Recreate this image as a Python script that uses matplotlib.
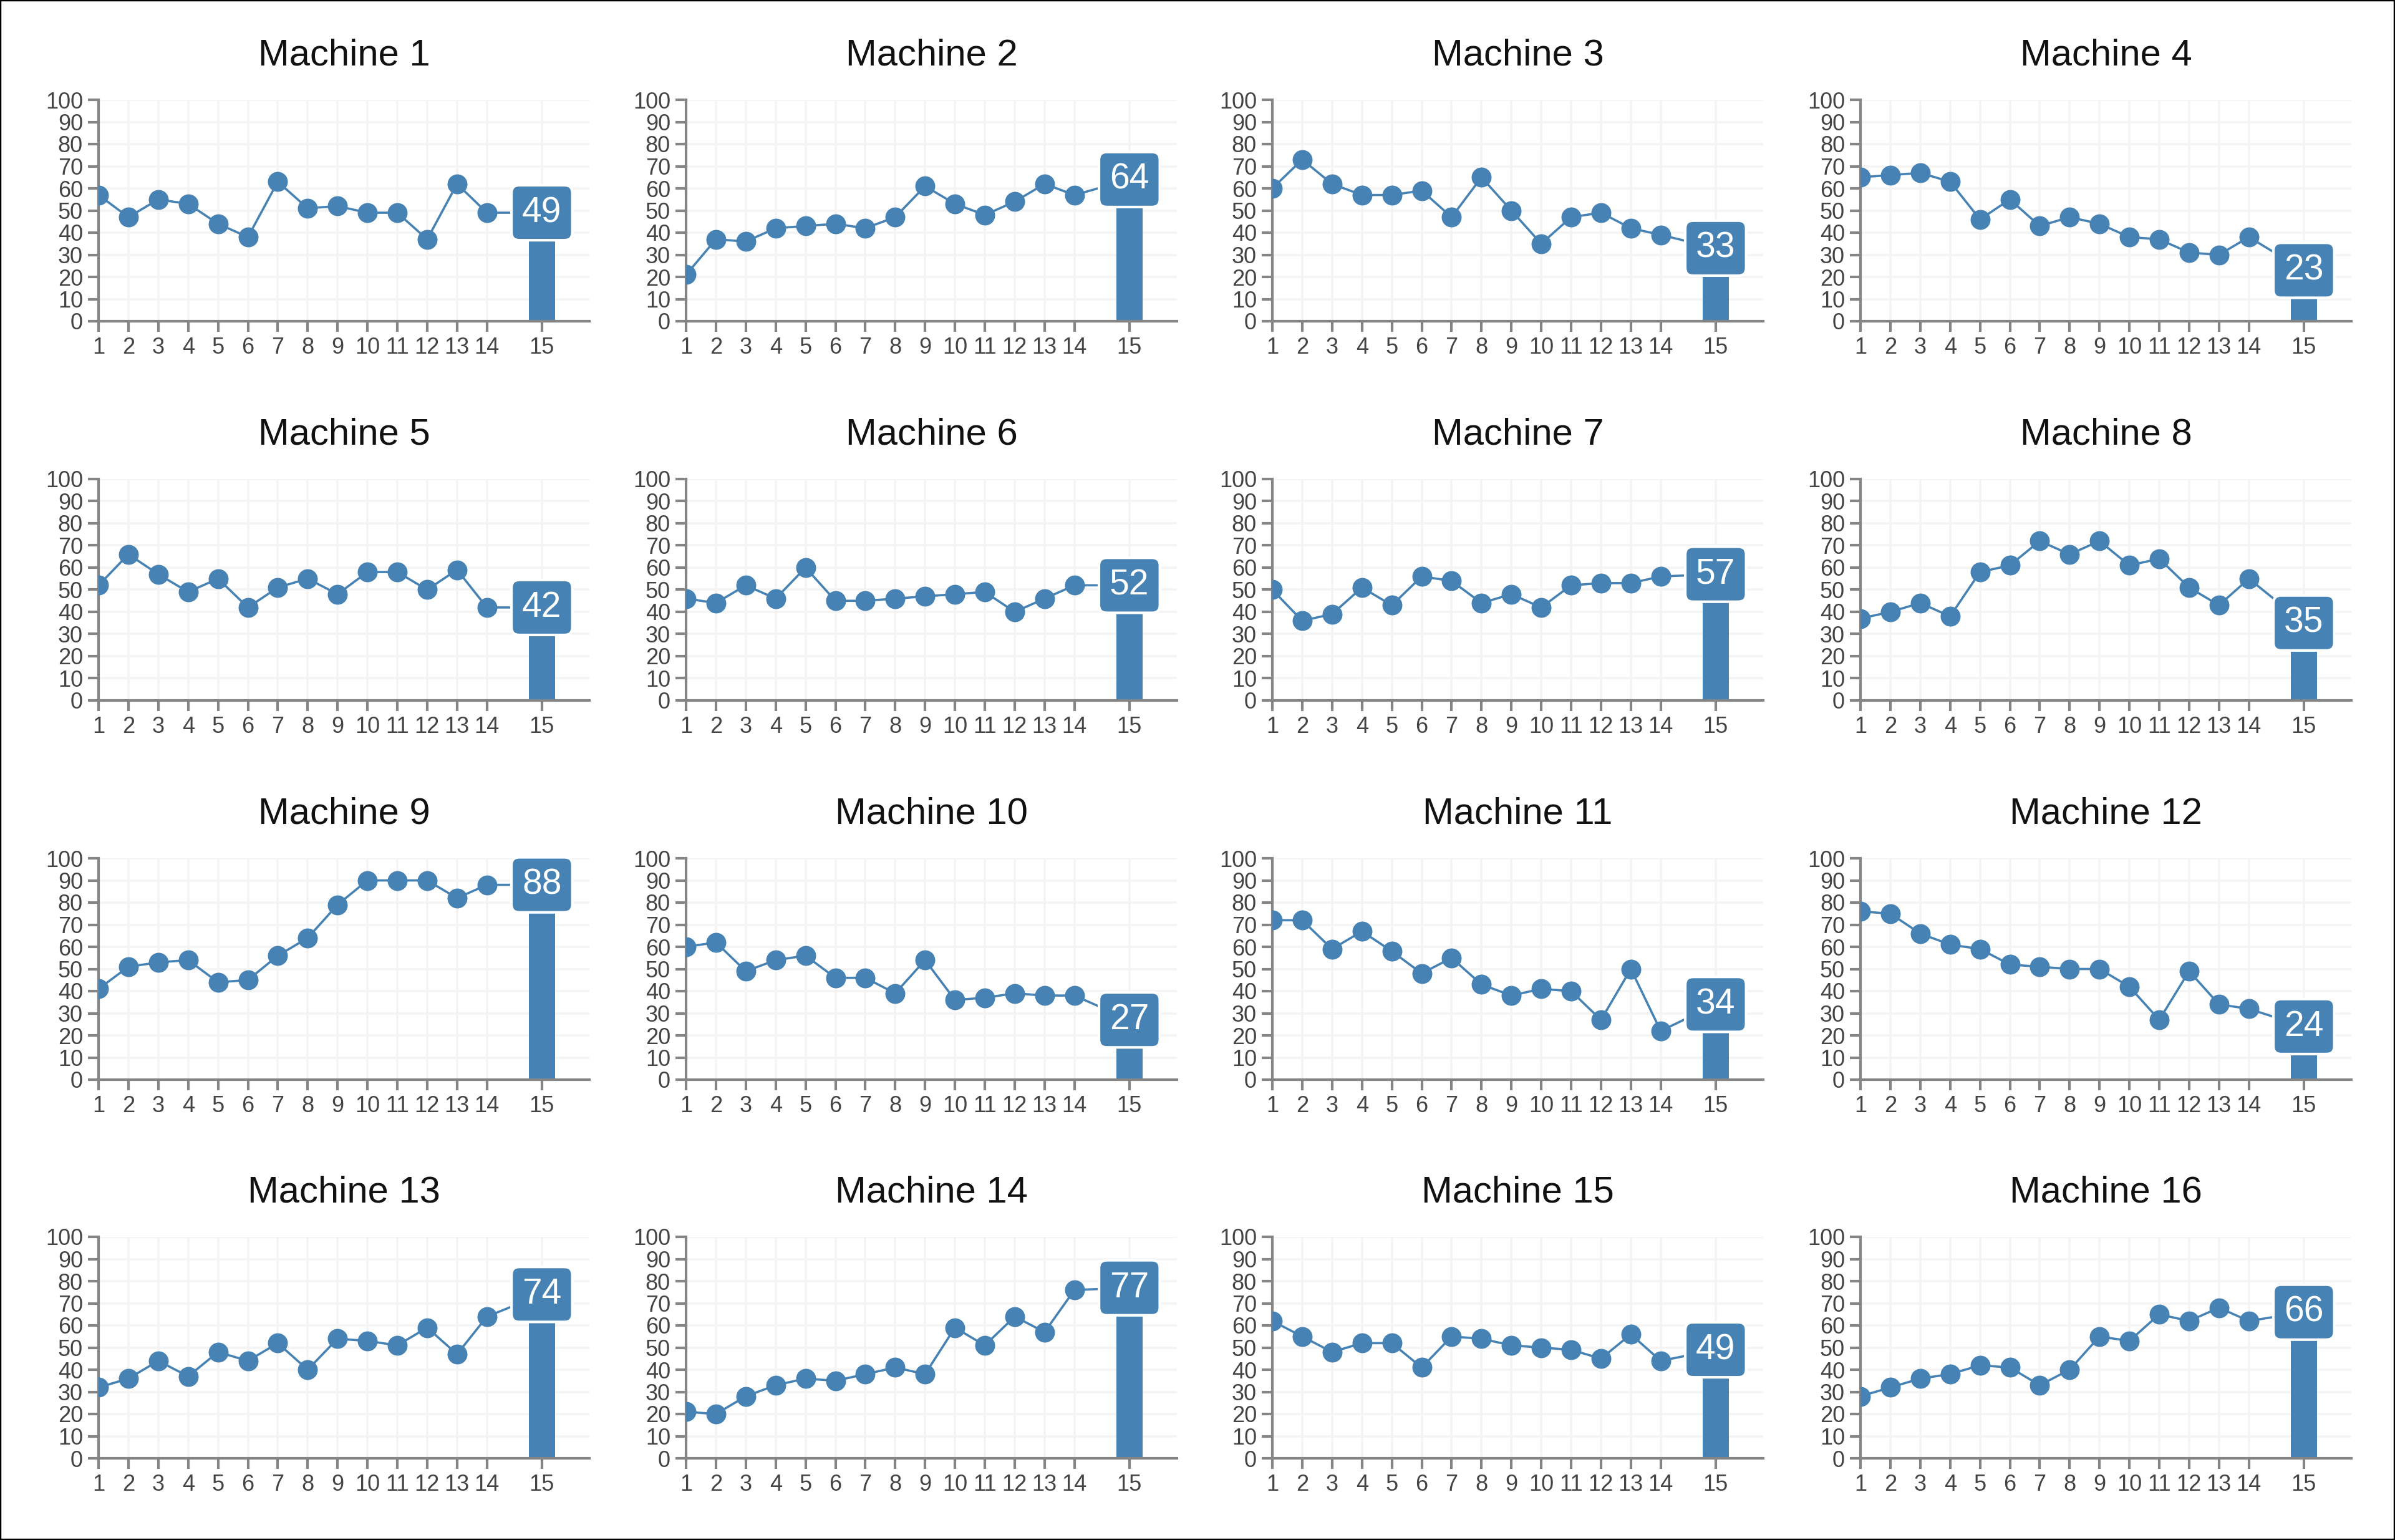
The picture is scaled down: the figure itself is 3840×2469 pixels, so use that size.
import numpy as np
import matplotlib
matplotlib.use("Agg")
import matplotlib.pyplot as plt
from matplotlib.patches import Rectangle

plt.rcParams['font.family'] = ['Liberation Sans', 'DejaVu Sans']

periods = list(range(1, 16))
machines = [f"Machine {i}" for i in range(1, 17)]

m1 = [57, 47, 55, 53, 44, 38, 63, 51, 52, 49, 49, 37, 62, 49, 49]
m2 = [21, 37, 36, 42, 43, 44, 42, 47, 61, 53, 48, 54, 62, 57, 64]
m3 = [60, 73, 62, 57, 57, 59, 47, 65, 50, 35, 47, 49, 42, 39, 33]
m4 = [65, 66, 67, 63, 46, 55, 43, 47, 44, 38, 37, 31, 30, 38, 23]
m5 = [52, 66, 57, 49, 55, 42, 51, 55, 48, 58, 58, 50, 59, 42, 42]
m6 = [46, 44, 52, 46, 60, 45, 45, 46, 47, 48, 49, 40, 46, 52, 52]
m7 = [50, 36, 39, 51, 43, 56, 54, 44, 48, 42, 52, 53, 53, 56, 57]
m8 = [37, 40, 44, 38, 58, 61, 72, 66, 72, 61, 64, 51, 43, 55, 35]
m9 = [41, 51, 53, 54, 44, 45, 56, 64, 79, 90, 90, 90, 82, 88, 88]
m10 = [60, 62, 49, 54, 56, 46, 46, 39, 54, 36, 37, 39, 38, 38, 27]
m11 = [72, 72, 59, 67, 58, 48, 55, 43, 38, 41, 40, 27, 50, 22, 34]
m12 = [76, 75, 66, 61, 59, 52, 51, 50, 50, 42, 27, 49, 34, 32, 24]
m13 = [32, 36, 44, 37, 48, 44, 52, 40, 54, 53, 51, 59, 47, 64, 74]
m14 = [21, 20, 28, 33, 36, 35, 38, 41, 38, 59, 51, 64, 57, 76, 77]
m15 = [62, 55, 48, 52, 52, 41, 55, 54, 51, 50, 49, 45, 56, 44, 49]
m16 = [28, 32, 36, 38, 42, 41, 33, 40, 55, 53, 65, 62, 68, 62, 66]
values = [m1, m2, m3, m4, m5, m6, m7, m8, m9, m10, m11, m12, m13, m14, m15, m16]

blue = "#4682b4"
axis_gray = "#858585"

# last period sits in its own wider slot
xpos = np.array(periods, dtype=float)
xpos[-1] = 15.84
x_right = 17.43

W, H = 3840, 2469
fig = plt.figure(figsize=(W / 200, H / 200), dpi=200)
fig.patches.append(Rectangle((0, 0), 1, 1, transform=fig.transFigure,
                             fill=False, edgecolor="black", linewidth=1.6))

lefts = [158, 1100, 2040, 2983]
tops = [160, 768, 1376, 1983]
aw, ah = 787, 355

for i, (name, vals) in enumerate(zip(machines, values)):
    r, c = divmod(i, 4)
    ax = fig.add_axes([lefts[c] / W, 1 - (tops[r] + ah) / H, aw / W, ah / H])
    ax.set_xlim(1, x_right)
    ax.set_ylim(0, 100)
    ax.set_xticks(xpos)
    ax.set_xticklabels([str(p) for p in periods])
    ax.set_yticks(range(0, 101, 10))
    ax.grid(True, color="#f4f4f4", linewidth=1.3, zorder=0)
    ax.set_axisbelow(True)
    for s in ["top", "right"]:
        ax.spines[s].set_visible(False)
    for s in ["left", "bottom"]:
        ax.spines[s].set_color(axis_gray)
        ax.spines[s].set_linewidth(1.5)
    ax.tick_params(axis="both", colors=axis_gray, width=1.5, length=6,
                   labelsize=13, labelcolor="#444444", pad=3)

    ax.bar(xpos[-1], vals[-1], width=0.89, color=blue, zorder=2)
    ax.plot(xpos, vals, color=blue, linewidth=1.3, zorder=3)
    ax.plot(xpos[:-1], vals[:-1], "o", color=blue, markersize=10.5, zorder=4)
    ax.text(xpos[-1], vals[-1], str(vals[-1]), ha="center", va="center",
            fontsize=20.5, color="white", zorder=5,
            bbox=dict(boxstyle="round,pad=0.3,rounding_size=0.22",
                      facecolor=blue, edgecolor="white", linewidth=1.5))
    ax.set_title(name, fontsize=21.5, color="#111111", pad=20)

fig.savefig("out.png", dpi=200)
